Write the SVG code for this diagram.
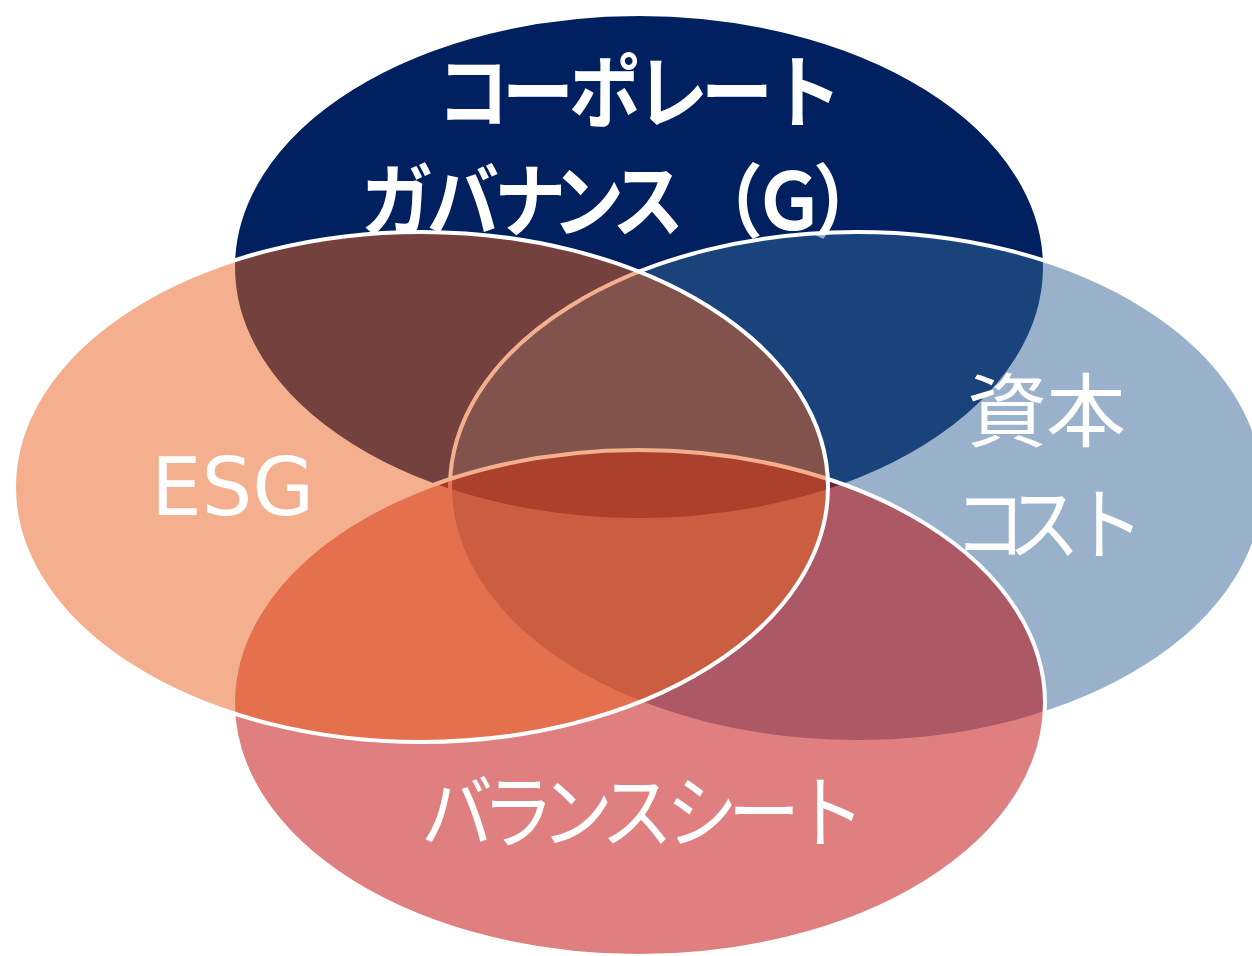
<svg xmlns="http://www.w3.org/2000/svg" width="1252" height="956" viewBox="0 0 1252 956">
  <style>
    .ring { stroke: #FFFFFF; stroke-width: 4; }
    .half { fill-opacity: 0.5; }
    .jp { font-family: "Noto Sans CJK JP", "Noto Sans CJK SC", sans-serif; fill: #FFFFFF; text-anchor: middle; }
    .bold { font-weight: 700; }
    .lat { font-family: "DejaVu Sans", "Liberation Sans", sans-serif; fill: #FFFFFF; }
  </style>
  <rect width="1252" height="956" fill="#FFFFFF"/>
  <g id="governance">
    <ellipse class="ring" cx="639" cy="267" rx="406" ry="253" fill="#00205F"/>
    <text class="jp bold" font-size="80" y="121" transform="scale(0.9 1)" x="525.6 597.8 672.2 746.7 818.9 895.6">コーポレート</text>
    <text class="jp bold" font-size="80" y="230" transform="scale(0.9 1)" x="441.1 514.4 588.9 653.3 720 807.8 876.7 943.3">ガバナンス（Ｇ）</text>
  </g>
  <g id="capital-cost">
    <ellipse class="ring half" cx="857" cy="487" rx="407" ry="255" fill="#336397"/>
    <text class="jp" font-size="80" y="440" x="1007 1086">資本</text>
    <text class="jp" font-size="80" y="553" transform="scale(0.9 1)" x="1100 1160 1231.1">コスト</text>
  </g>
  <g id="balance-sheet">
    <ellipse class="ring half" cx="639" cy="703" rx="406" ry="253" fill="#C00000"/>
    <text class="jp" font-size="80" y="841" transform="scale(0.9 1)" x="507.8 575.6 641.1 707.8 780 848.9 921.1">バランスシート</text>
  </g>
  <g id="esg">
    <ellipse class="ring half" cx="421" cy="487" rx="407" ry="255" fill="#E9621E"/>
    <text class="lat" font-size="80" x="151" y="515">ESG</text>
  </g>
  <g id="connectors"/>
</svg>
